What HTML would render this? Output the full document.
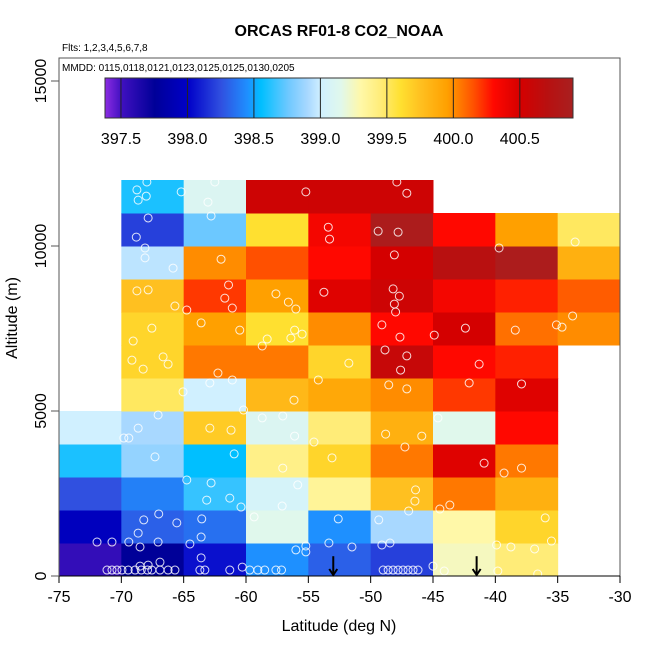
<!DOCTYPE html>
<html><head><meta charset="utf-8"><style>
body{margin:0;background:#fff}
svg{display:block;font-family:"Liberation Sans",Arial,sans-serif}
</style></head><body>
<svg id="chart" width="650" height="650" viewBox="0 0 650 650">
<text x="339" y="36" text-anchor="middle" font-size="16" font-weight="bold">ORCAS RF01-8 CO2_NOAA</text>
<text x="62" y="51" font-size="10">Flts: 1,2,3,4,5,6,7,8</text>
<g id="cells"></g><g id="pts"></g><g id="arrows"></g>
<rect x="59" y="58" width="561" height="518" fill="none" stroke="#555" stroke-width="1"/>
<text x="62" y="71" font-size="10">MMDD: 0115,0118,0121,0123,0125,0125,0130,0205</text>
<defs><linearGradient id="cg" x1="0" x2="1" y1="0" y2="0" id2="x"></linearGradient></defs>
<g id="cbar"></g>
<g id="axes"></g>
<text x="339" y="631" text-anchor="middle" font-size="16">Latitude (deg N)</text>
<text transform="translate(17,318) rotate(-90)" text-anchor="middle" font-size="16">Altitude (m)</text>
</svg>
<script>
const latEdges=[-75,-70,-65,-60,-55,-50,-45,-40,-35,-30];
const altEdges=[0,1000,2000,3000,4000,5000,6000,7000,8000,9000,10000,11000,12000];
// rows bottom (0-1000 m) to top (11000-12000 m); null = no data
const row0=[397.55,397.75,398.05,398.45,398.3,398.2,399.25,399.45,null];
const row1=[397.95,398.3,398.35,399.15,398.45,398.9,399.3,399.65,null];
const row2=[398.25,398.4,398.65,399.05,399.35,399.75,400.05,399.85,null];
const row3=[398.6,398.85,398.55,399.4,399.65,400.05,400.45,400.05,null];
const row4=[399.0,398.9,399.7,399.1,399.45,399.85,399.15,400.3,null];
const row5=[null,399.5,399.0,399.8,399.9,400.0,400.2,400.45,null];
const row6=[null,399.65,400.05,400.05,399.65,400.6,400.3,400.25,null];
const row7=[null,399.65,399.95,399.6,400.0,400.3,400.5,400.07,400.0];
const row8=[null,399.75,400.2,399.95,400.45,400.55,400.35,400.25,400.12];
const row9=[null,398.95,400.0,400.15,400.3,400.5,400.7,400.85,399.85];
const row10=[null,398.2,398.75,399.6,400.35,400.85,400.3,399.95,399.5];
const row11=[null,398.6,399.1,400.55,400.55,400.55,null,null,null];
const rows=[row0,row1,row2,row3,row4,row5,row6,row7,row8,row9,row10,row11];
const cbarTicks=[397.5,398.0,398.5,399.0,399.5,400.0,400.5];
const cbarMin=397.38, cbarMax=400.9;
const xTicks=[-75,-70,-65,-60,-55,-50,-45,-40,-35,-30];
const yTicks=[0,5000,10000,15000];
const arrowLats=[-53,-41.5];
const ptLat=[-68.75,-67.95,-68.0,-68.65,-67.85,-65.2,-62.5,-63.05,-62.8,-55.2,-47.9,-47.1,-53.4,-53.3,-49.4,-47.8,-39.7,-33.6,-68.8,-68.1,-68.1,-65.85,-62.0,-48.1,-61.4,-68.75,-67.85,-65.7,-64.75,-61.7,-61.1,-57.6,-56.6,-56.0,-53.75,-48.2,-47.7,-48.1,-48.0,-33.8,-35.1,-69.05,-67.55,-63.6,-60.5,-58.3,-56.4,-55.5,-58.7,-56.1,-49.1,-47.65,-48.85,-44.9,-42.4,-38.4,-34.65,-69.15,-66.65,-66.25,-68.25,-62.25,-54.2,-47.1,-47.6,-41.3,-37.9,-51.75,-65.05,-62.9,-61.1,-56.15,-47.1,-48.55,-42.1,-67.05,-68.65,-69.4,-69.8,-62.9,-61.2,-60.2,-58.7,-57.05,-56.1,-54.55,-48.8,-47.25,-45.9,-44.6,-33.85,-67.3,-64.75,-62.8,-60.95,-57.05,-55.85,-53.1,-46.4,-40.9,-39.3,-37.9,-68.2,-67.0,-65.55,-63.55,-63.15,-61.3,-60.4,-59.35,-57.1,-52.6,-49.35,-46.95,-46.45,-44.45,-43.65,-36.0,-68.65,-69.4,-68.5,-67.05,-64.5,-63.6,-56.0,-55.2,-53.35,-51.5,-49.1,-48.45,-39.9,-38.75,-70.75,-71.95,-63.6,-60.3,-55.2,-39.8,-36.85,-35.5,-36.6,-44.1,-45.0,-71.15,-70.75,-70.35,-69.95,-69.45,-68.9,-68.4,-67.9,-67.55,-66.9,-66.25,-65.7,-63.7,-63.3,-61.3,-59.7,-59.05,-58.5,-57.6,-57.15,-49.0,-48.6,-48.2,-47.8,-47.4,-47.0,-46.6,-46.2,-67.85,-68.5,-66.9];
const ptAlt=[11700,11940,11510,11390,10850,11640,11940,11330,10910,11640,11940,11600,10570,10210,10450,10420,9940,10120,10270,9940,9640,9330,9600,9730,8820,8640,8670,8180,8060,8420,8120,8550,8300,8090,8600,8700,8480,8240,8000,7880,7610,7120,7510,7670,7450,7180,7210,7330,6970,7450,7610,7240,6850,7300,7510,7450,7540,6540,6640,6420,6270,6150,5940,6670,6240,6420,5820,6450,5580,5850,5940,5330,5670,5790,5850,4880,4480,4180,4180,4480,4420,5030,4790,4850,4240,4060,4300,3910,4240,4790,5000,3610,2910,2820,3700,3270,2760,3580,2610,3420,3120,3270,1700,1880,1610,1730,2300,2360,2090,1790,2120,1730,1700,1970,2270,2030,2150,1760,1300,1030,880,1030,970,1180,790,910,1000,880,940,1000,940,880,1030,1030,550,270,730,150,820,1060,60,150,300,180,180,180,180,180,180,180,180,180,180,180,180,180,180,180,180,180,180,180,180,180,180,180,180,180,180,180,180,330,300,420];

const X=v=>59+(v+75)*561/45;
const Y=v=>576-v*0.033;
const CB=v=>105+(v-cbarMin)*(573-105)/(cbarMax-cbarMin);
const stops=[[397.38,'#8a2be2'],[397.5,'#4010c0'],[397.75,'#000098'],[398.0,'#0000c8'],[398.25,'#3050e0'],[398.45,'#1e90ff'],[398.55,'#00bfff'],[398.75,'#6cc8ff'],[398.9,'#a8d8ff'],[399.0,'#d0f0ff'],[399.15,'#e0f8ec'],[399.3,'#fff8a8'],[399.45,'#ffec78'],[399.6,'#ffe030'],[399.75,'#ffc020'],[399.95,'#ffa000'],[400.05,'#ff7800'],[400.15,'#ff5000'],[400.3,'#ff0800'],[400.5,'#d40000'],[400.7,'#b81010'],[400.9,'#a82020']];
function hx(c){return [1,3,5].map(i=>parseInt(c.substr(i,2),16));}
function cmap(v){
  if(v<=stops[0][0])return stops[0][1];
  for(let i=1;i<stops.length;i++){if(v<=stops[i][0]){const a=hx(stops[i-1][1]),b=hx(stops[i][1]);const t=(v-stops[i-1][0])/(stops[i][0]-stops[i-1][0]);return 'rgb('+a.map((x,k)=>Math.round(x+(b[k]-x)*t)).join(',')+')';}}
  return stops[stops.length-1][1];
}
const NS='http://www.w3.org/2000/svg';
function mk(t,a,p){const e=document.createElementNS(NS,t);for(const k in a)e.setAttribute(k,a[k]);p.appendChild(e);return e;}
const cells=document.getElementById('cells');
rows.forEach((r,ri)=>r.forEach((v,ci)=>{if(v===null)return;
  const x0=X(latEdges[ci]),x1=X(latEdges[ci+1]),y0=Y(altEdges[ri+1]),y1=Y(altEdges[ri]);
  const e=mk('rect',{x:x0,y:y0,width:x1-x0+0.5,height:y1-y0+0.5,fill:cmap(v)},cells);
  
  
}));
const pts=document.getElementById('pts');
ptLat.forEach((la,i)=>{const e=mk('circle',{cx:X(la),cy:Y(ptAlt[i]),r:4,fill:'none',stroke:'rgba(255,255,255,0.85)','stroke-width':1},pts);
  
  });
const ar=document.getElementById('arrows');
arrowLats.forEach(la=>{const g=mk('g',{stroke:'#000','stroke-width':2,fill:'none'},ar);
  
  
  const x=X(la);mk('line',{x1:x,y1:Y(600),x2:x,y2:Y(0)-1},g);mk('polyline',{points:(x-4)+','+(Y(0)-7)+' '+x+','+(Y(0)-1)+' '+(x+4)+','+(Y(0)-7)},g);});
// colorbar
const cb=document.getElementById('cbar');
for(let px=105;px<573;px++){const v=cbarMin+(px-105)*(cbarMax-cbarMin)/468;mk('rect',{x:px,y:78,width:1.2,height:40,fill:cmap(v)},cb);}
const cbr=mk('rect',{x:105,y:78,width:468,height:40,fill:'none',stroke:'#333','stroke-width':1},cb);


cbarTicks.forEach(t=>{mk('line',{x1:CB(t),x2:CB(t),y1:78,y2:118,stroke:'#222','stroke-width':1},cb);
  const tx=mk('text',{x:CB(t),y:144,'text-anchor':'middle','font-size':16},cb);tx.textContent=t.toFixed(1);
  
  });
// axes
const ax=document.getElementById('axes');
mk('line',{x1:59,x2:620,y1:576,y2:576,stroke:'#000','stroke-width':1},ax);
xTicks.forEach(t=>{mk('line',{x1:X(t),x2:X(t),y1:576,y2:583,stroke:'#000'},ax);
  const tx=mk('text',{x:X(t),y:602,'text-anchor':'middle','font-size':16},ax);tx.textContent=t;
  
  });
mk('line',{x1:59,x2:59,y1:Y(15000),y2:576,stroke:'#555','stroke-width':1},ax);
yTicks.forEach(t=>{mk('line',{x1:51,x2:59,y1:Y(t),y2:Y(t),stroke:'#555'},ax);
  const tx=mk('text',{transform:'translate(46,'+Y(t)+') rotate(-90)','text-anchor':'middle','font-size':16},ax);tx.textContent=t;
  
  });
</script>
</body></html>
